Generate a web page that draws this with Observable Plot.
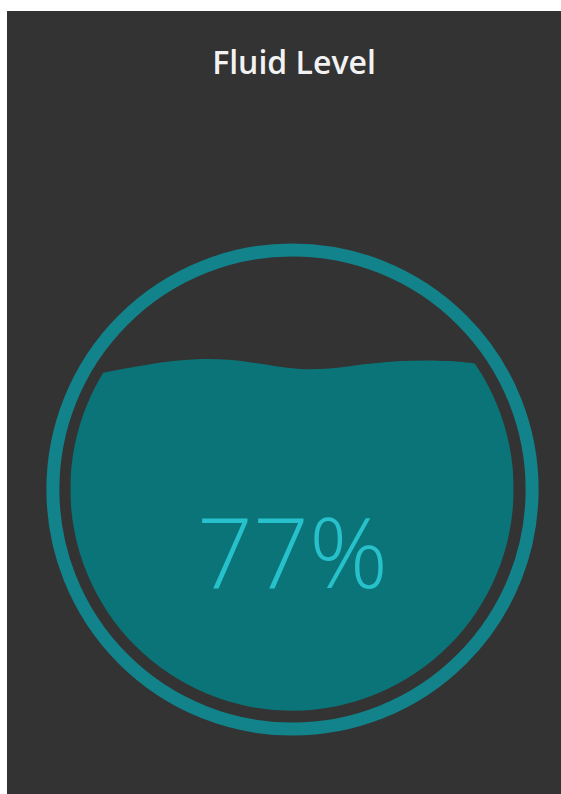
<!DOCTYPE html>
<html><head><meta charset="utf-8">
<script src="https://cdn.jsdelivr.net/npm/d3@7"></script>
<script src="https://cdn.jsdelivr.net/npm/@observablehq/plot@0.6"></script>
<style>
html,body{margin:0;padding:0;background:#ffffff;}
#panel{position:absolute;left:7px;top:11px;width:554px;height:783px;background:#333333;overflow:hidden;}
#title{height:100px;box-sizing:border-box;padding-top:30px;padding-left:20px;line-height:42px;text-align:center;font-family:"Open Sans",sans-serif;font-weight:600;font-size:32px;color:#f2f2f2;}
#chart svg{display:block;}
</style></head><body>
<div id="panel"><div id="title"></div><div id="chart"></div></div>
<script>
// ---- data ----
const title = "Fluid Level";
const level = 77; // percent
// wave crest of the liquid surface, in units of the inner-circle radius
const waveX = [-1.00, -0.84, -0.64, -0.41, -0.19, 0.04, 0.26, 0.49, 0.71, 0.85, 1.00];
const waveY = [ 0.50,  0.527, 0.563, 0.586, 0.572, 0.541, 0.554, 0.577, 0.577, 0.563, 0.55];

// ---- build ----
document.getElementById("title").textContent = title;
const wave = waveX.map((x, i) => ({x, y: waveY[i]}));
const W = 554, H = 683;
const mL = 19, mR = 3, mT = 112, mB = 39;
const unit = (W - mL - mR) / 2.4;
const ringR = 1.081 * unit;

const plot = Plot.plot({
  width: W, height: H,
  marginLeft: mL, marginRight: mR, marginTop: mT, marginBottom: mB,
  x: {domain: [-1.2, 1.2], axis: null},
  y: {domain: [-1.2, 1.2], axis: null},
  style: {background: "transparent", overflow: "visible"},
  marks: [
    Plot.areaY(wave, {x: "x", y1: -1.2, y2: "y", curve: "natural", fill: "#0b7478"}),
    Plot.dot([{x: 0, y: 0}], {x: "x", y: "y", r: ringR, stroke: "#12838a", strokeWidth: 13, fill: "none"}),
    Plot.text([`${level}%`], {x: 0, y: -0.446, text: d => d, textAnchor: "middle", lineAnchor: "bottom",
      fontSize: 98, fontWeight: 300, fontFamily: "'Open Sans', sans-serif", fill: "#27c1cb"})
  ]
});

// clip the liquid to the inner circle
const sx = plot.scale("x"), sy = plot.scale("y");
const ns = "http://www.w3.org/2000/svg";
const defs = document.createElementNS(ns, "defs");
const cp = document.createElementNS(ns, "clipPath");
cp.setAttribute("id", "bowl");
const c = document.createElementNS(ns, "circle");
c.setAttribute("cx", sx.apply(0));
c.setAttribute("cy", sy.apply(0));
c.setAttribute("r", unit);
cp.appendChild(c); defs.appendChild(cp);
plot.insertBefore(defs, plot.firstChild);
const areaG = plot.querySelector('g[aria-label="area"]');
if (areaG) areaG.setAttribute("clip-path", "url(#bowl)");

document.getElementById("chart").appendChild(plot);
</script>
</body></html>
